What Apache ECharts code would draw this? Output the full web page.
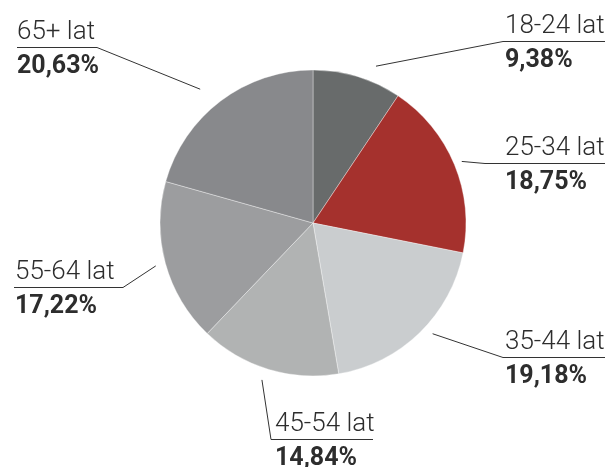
<!DOCTYPE html>
<html lang="pl">
<head>
    <meta charset="UTF-8">
    <title>Wiek</title>
    <script type="text/javascript" src="https://cdn.jsdelivr.net/npm/echarts@6/dist/echarts.min.js"></script>
    <style>
        html, body { margin: 0; padding: 0; background: #fff; }
        #main { width: 614px; height: 467px; }
    </style>
</head>
<body>
<div id="main"></div>
<script>
    // dane
    const groups = ['18-24 lat', '25-34 lat', '35-44 lat', '45-54 lat', '55-64 lat', '65+ lat'];
    const shares = [9.38, 18.75, 19.18, 14.84, 17.22, 20.63];
    const colors = ['#686b6b', '#a5312d', '#cacdcf', '#b1b3b3', '#9c9d9f', '#88898c'];

    // rozmieszczenie podpisow: kolanko linii, koniec podkreslenia, x tekstu,
    // odstep od kola i lekki obrot punktu startowego (stopnie)
    const guides = [
        { elbow: [503, 41.5], endX: 605, textX: 505, gap: 16, turn: 5 },
        { elbow: [485, 163.5], endX: 605, textX: 505, gap: 8, turn: 0 },
        { elbow: [503, 357.5], endX: 605, textX: 505, gap: 10, turn: -3 },
        { elbow: [271, 439.5], endX: 373, textX: 275, gap: 12, turn: 1 },
        { elbow: [123, 287.5], endX: 14, textX: 15, gap: 10, turn: 0 },
        { elbow: [97, 47.5], endX: 17, textX: 17, gap: 22, turn: -3 }
    ];

    const cx = 313, cy = 223, R = 153;

    function fmt(v) {
        return v.toFixed(2).replace('.', ',') + '%';
    }

    const chart = echarts.init(document.getElementById('main'));
    chart.setOption({
        animation: false,
        series: [{
            type: 'pie',
            center: [cx, cy],
            radius: R,
            startAngle: 90,
            clockwise: true,
            avoidLabelOverlap: false,
            data: groups.map((g, i) => ({
                name: g,
                value: shares[i],
                itemStyle: { color: colors[i] }
            })),
            itemStyle: { borderColor: 'rgba(255,255,255,0.6)', borderWidth: 0.6 },
            emphasis: { disabled: true },
            label: {
                position: 'outside',
                overflow: 'none',
                formatter: p => '{n|' + p.name + '}\n{v|' + fmt(p.value) + '}',
                rich: {
                    n: { fontFamily: 'Roboto', fontWeight: 300, fontSize: 26, lineHeight: 31, color: '#2d2d2d' },
                    v: { fontFamily: 'Roboto', fontWeight: 'bold', fontSize: 25, lineHeight: 39, color: '#2d2d2d' }
                }
            },
            labelLine: {
                show: true,
                length: 4,
                length2: 4,
                lineStyle: { color: '#333', width: 1 }
            },
            labelLayout: function (params) {
                const g = guides[params.dataIndex];
                const p0 = params.labelLinePoints[0];
                // kat w ukladzie ekranu, obrot zgodnie z ruchem wskazowek
                const ang = Math.atan2(p0[1] - cy, p0[0] - cx) + g.turn * Math.PI / 180;
                const r = R + g.gap;
                const start = [cx + r * Math.cos(ang), cy + r * Math.sin(ang)];
                return {
                    x: g.textX,
                    y: g.elbow[1] - 31,
                    align: 'left',
                    verticalAlign: 'top',
                    labelLinePoints: [start, g.elbow, [g.endX, g.elbow[1]]]
                };
            }
        }]
    });
</script>
</body>
</html>
